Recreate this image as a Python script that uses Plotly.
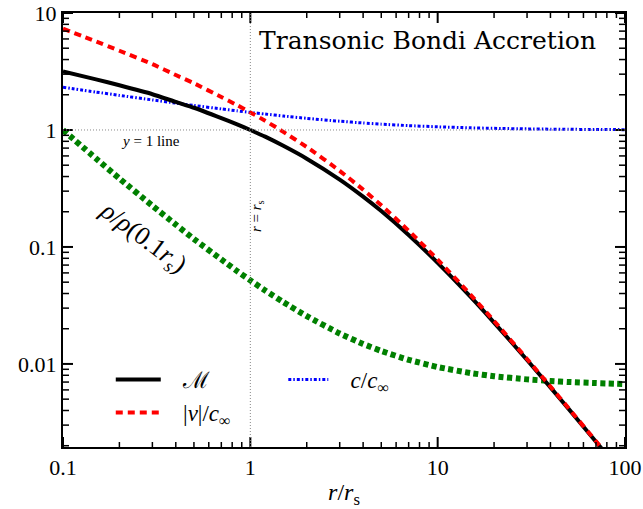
import plotly.graph_objects as go

# radius in units of sonic radius r_s
r = [0.1, 0.15, 0.2, 0.3, 0.4, 0.5, 0.7, 0.85, 1, 1.2, 1.5, 2, 3, 4, 5, 7, 10,
     15, 20, 30, 40, 50, 70, 100]
# Mach number
mach = [3.17, 2.709, 2.409, 2.022, 1.737, 1.549, 1.263, 1.118, 1.0, 0.8765,
        0.732, 0.5686, 0.3768, 0.2694, 0.2026, 0.1265, 0.0732, 0.0374, 0.02257,
        0.0108, 0.006305, 0.004127, 0.002162, 0.00108]
# |v| / c_inf
vel = [7.34, 5.714, 4.758, 3.654, 2.950, 2.508, 1.913, 1.63, 1.414, 1.199,
       0.964, 0.715, 0.4476, 0.3092, 0.2272, 0.1378, 0.0779, 0.0390, 0.02331,
       0.01103, 0.006409, 0.004182, 0.002182, 0.001087]
# c / c_inf
snd = [2.316, 2.109, 1.9755, 1.8066, 1.698, 1.6195, 1.5145, 1.458, 1.414,
       1.368, 1.3167, 1.2575, 1.1878, 1.1478, 1.1217, 1.0897, 1.0641, 1.0434,
       1.0327, 1.0220, 1.0165, 1.0132, 1.0095, 1.0066]
# rho / rho(0.1 r_s)
rho = [1.0, 0.570, 0.385, 0.2252, 0.1553, 0.1169, 0.0782, 0.0622, 0.0518,
       0.0425, 0.03377, 0.02564, 0.01821, 0.01482, 0.01291, 0.01085, 0.00941,
       0.00836, 0.00786, 0.00738, 0.00715, 0.00701, 0.00686, 0.00674]

xtick_vals = [0.1, 1, 10, 100]
xtick_text = ["0.1", "1", "10", "100"]
ytick_vals = [0.01, 0.1, 1, 10]
ytick_text = ["0.01", "0.1", "1", "10"]

x_minor = [m * d for d in (0.1, 1, 10) for m in range(2, 10)]
y_minor = [m * d for d in (0.001, 0.01, 0.1, 1) for m in range(2, 10)
           if m * d >= 0.002]

XR = [-1, 2]
YR = [-2.71, 1]

serif = "Liberation Serif, DejaVu Serif, serif"
NB = "\u00a0\u00a0\u00a0"

fig = go.Figure()

line_kw = dict(shape="spline", smoothing=0.5)
fig.add_trace(go.Scatter(x=r, y=rho, mode="lines", showlegend=False,
                         line=dict(color="#008000", width=6, dash="5px,3.5px", **line_kw)))
fig.add_trace(go.Scatter(x=r, y=snd, mode="lines",
                         name=NB + "<i>c</i>/<i>c</i><sub>∞</sub>",
                         legend="legend2",
                         line=dict(color="#0000ff", width=3, dash="3px,2px,1.5px,2px", **line_kw)))
fig.add_trace(go.Scatter(x=r, y=mach, mode="lines", name=NB + "ℳ",
                         legend="legend", legendrank=1,
                         line=dict(color="black", width=4, **line_kw)))
fig.add_trace(go.Scatter(x=r, y=vel, mode="lines",
                         name=NB + "|<i>v</i>|/<i>c</i><sub>∞</sub>",
                         legend="legend", legendrank=2,
                         line=dict(color="#ff0000", width=4, dash="7px,5px", **line_kw)))

tickfont = dict(family=serif, size=22, color="black")
axis_common = dict(type="log", showline=True, linecolor="black", linewidth=2,
                   mirror=True, ticks="", showgrid=False, zeroline=False,
                   automargin=False, tickfont=tickfont)

fig.update_layout(
    xaxis=dict(range=XR, tickvals=xtick_vals, ticktext=xtick_text,
               title=dict(text="<i>r</i>/<i>r</i><sub>s</sub>",
                          font=dict(family=serif, size=24, color="black"),
                          standoff=14),
               **axis_common),
    yaxis=dict(range=YR, tickvals=ytick_vals, ticktext=ytick_text, **axis_common),
)


# inward tick marks on all four sides (major long, minor short)
def add_ticks(vals, length, width):
    for v in vals:
        for anchor, sgn in ((0, 1), (1, -1)):
            fig.add_shape(type="line", xref="x", yref="paper", x0=v, x1=v,
                          ysizemode="pixel", yanchor=anchor, y0=0, y1=sgn * length,
                          line=dict(color="black", width=width))
    return None


def add_yticks(vals, length, width):
    for v in vals:
        for anchor, sgn in ((0, 1), (1, -1)):
            fig.add_shape(type="line", yref="y", xref="paper", y0=v, y1=v,
                          xsizemode="pixel", xanchor=anchor, x0=0, x1=sgn * length,
                          line=dict(color="black", width=width))
    return None


add_ticks(xtick_vals, 10, 2)
add_ticks(x_minor, 5, 1.5)
add_yticks(ytick_vals, 10, 2)
add_yticks(y_minor, 6, 1.5)

# reference lines at r = r_s and y = 1
fig.add_vline(x=1, line=dict(color="#888888", width=1, dash="1px,2px"))
fig.add_hline(y=1, line=dict(color="#888888", width=1, dash="1px,2px"))

fig.add_annotation(text="Transonic Bondi Accretion", xref="paper", yref="paper",
                   x=0.952, y=0.975, xanchor="right", yanchor="top", showarrow=False,
                   font=dict(family="DejaVu Serif, serif", size=25, color="black"))
fig.add_annotation(text="<i>y</i> = 1 line", xref="x", yref="y", x=-0.535, y=-0.09,
                   xanchor="center", yanchor="middle", showarrow=False,
                   font=dict(family=serif, size=15, color="black"))
fig.add_annotation(text="<i>r</i> = <i>r</i><sub>s</sub>", xref="x", yref="y",
                   x=0.036, y=-0.735, xanchor="center", yanchor="middle",
                   textangle=-90, showarrow=False,
                   font=dict(family=serif, size=15, color="black"))
fig.add_annotation(text="<i>ρ</i>/<i>ρ</i>(0.1<i>r</i><sub><i>s</i></sub>)",
                   xref="x", yref="y", x=-0.575, y=-0.92,
                   xanchor="center", yanchor="middle", textangle=37,
                   showarrow=False, font=dict(family=serif, size=26, color="black"))

fig.update_layout(
    width=643, height=509,
    margin=dict(l=63, r=18, t=13, b=62),
    paper_bgcolor="white", plot_bgcolor="white",
    legend=dict(x=0.085, y=0.205, xanchor="left", yanchor="top",
                bgcolor="rgba(0,0,0,0)", itemwidth=45, tracegroupgap=4,
                font=dict(family=serif, size=23, color="black")),
    legend2=dict(x=0.392, y=0.205, xanchor="left", yanchor="top",
                 bgcolor="rgba(0,0,0,0)", itemwidth=40,
                 font=dict(family=serif, size=23, color="black")),
)

fig.write_html("out.html")
